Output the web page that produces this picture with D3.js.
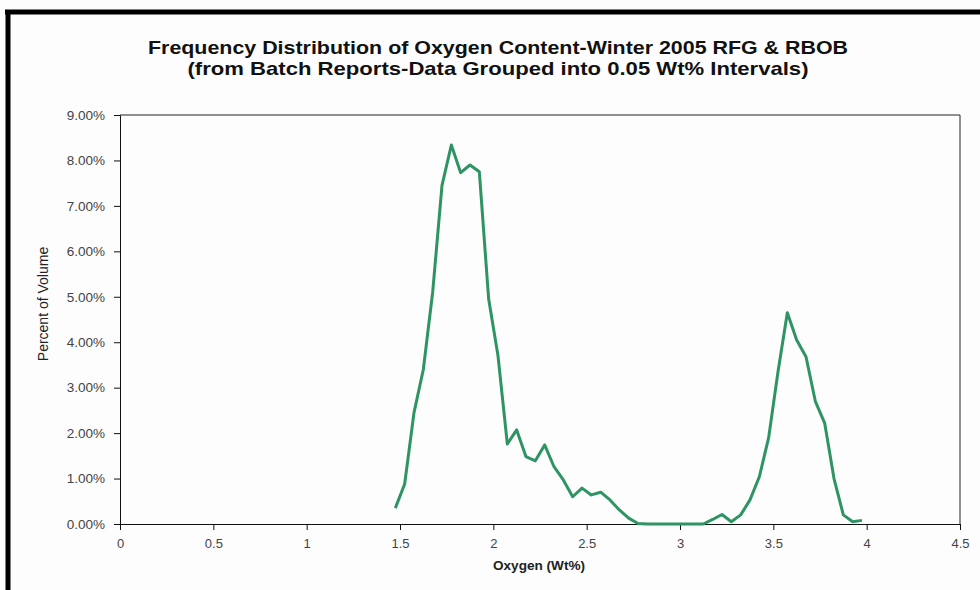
<!DOCTYPE html>
<html>
<head>
<meta charset="utf-8">
<script src="https://cdn.jsdelivr.net/npm/d3@7"></script>
<style>
  html, body { margin: 0; padding: 0; background: #fdfdfd; }
  svg { display: block; }
</style>
</head>
<body>
<svg id="chart" width="980" height="590"></svg>
<script>
// ---- Data ----
const titleLines = [
  "Frequency Distribution of Oxygen Content-Winter 2005 RFG & RBOB",
  "(from Batch Reports-Data Grouped into 0.05 Wt% Intervals)"
];
const xAxisTitle = "Oxygen (Wt%)";
const yAxisTitle = "Percent of Volume";
const xTicks = [0, 0.5, 1, 1.5, 2, 2.5, 3, 3.5, 4, 4.5];
const yTicks = [0, 1, 2, 3, 4, 5, 6, 7, 8, 9];
// oxygen content (interval midpoints, Wt%)
const oxygen = [
  1.475, 1.525, 1.575, 1.625, 1.675, 1.725, 1.775, 1.825, 1.875, 1.925,
  1.975, 2.025, 2.075, 2.125, 2.175, 2.225, 2.275, 2.325, 2.375, 2.425,
  2.475, 2.525, 2.575, 2.625, 2.675, 2.725, 2.775, 2.825, 2.875, 2.925,
  2.975, 3.025, 3.075, 3.125, 3.175, 3.225, 3.275, 3.325, 3.375, 3.425,
  3.475, 3.525, 3.575, 3.625, 3.675, 3.725, 3.775, 3.825, 3.875, 3.925,
  3.975
];
// percent of volume
const percentVolume = [
  0.35, 0.88, 2.45, 3.40, 5.10, 7.45, 8.34, 7.73, 7.90, 7.75,
  4.95, 3.70, 1.76, 2.07, 1.48, 1.39, 1.74, 1.26, 0.97, 0.60,
  0.79, 0.64, 0.70, 0.53, 0.31, 0.13, 0.01, 0.00, 0.00, 0.00,
  0.00, 0.00, 0.00, 0.00, 0.10, 0.21, 0.05, 0.20, 0.53, 1.04,
  1.90, 3.35, 4.65, 4.05, 3.68, 2.70, 2.22, 1.00, 0.20, 0.05,
  0.08
];

// ---- Layout ----
const svg = d3.select("#chart");
const W = 980, H = 590;
const plot = { left: 120, right: 960, top: 115, bottom: 524 };

// outer frame (cropped: top and left edges visible)
svg.append("rect").attr("x", 0).attr("y", 0).attr("width", W).attr("height", H).attr("fill", "#fdfdfd");
svg.append("line").attr("x1", 5).attr("x2", W).attr("y1", 12).attr("y2", 12)
  .attr("stroke", "#000").attr("stroke-width", 5);
svg.append("line").attr("x1", 8).attr("x2", 8).attr("y1", 10).attr("y2", H)
  .attr("stroke", "#000").attr("stroke-width", 5);

const x = d3.scaleLinear().domain([0, 4.5]).range([plot.left, plot.right]);
const y = d3.scaleLinear().domain([0, 9]).range([plot.bottom, plot.top]);

// plot area border (top & right)
svg.append("path")
  .attr("d", `M${plot.left},${plot.top}H${plot.right}V${plot.bottom}`)
  .attr("fill", "none").attr("stroke", "#222").attr("stroke-width", 1);

const font = "'Liberation Sans', Arial, sans-serif";

// y axis
const yAxis = d3.axisLeft(y).tickValues(yTicks).tickSize(6).tickPadding(9)
  .tickFormat(d => d3.format(".2f")(d) + "%");
const gy = svg.append("g").attr("transform", `translate(${plot.left},0)`).call(yAxis);
gy.select(".domain").attr("stroke", "#111");
gy.selectAll(".tick line").attr("stroke", "#111");
gy.selectAll("text").attr("font-family", font).attr("font-size", 13.5).attr("fill", "#444");

// x axis
const xAxis = d3.axisBottom(x).tickValues(xTicks).tickSize(6).tickPadding(9)
  .tickFormat(d => String(d));
const gx = svg.append("g").attr("transform", `translate(0,${plot.bottom})`).call(xAxis);
gx.select(".domain").attr("stroke", "#111");
gx.selectAll(".tick line").attr("stroke", "#111");
gx.selectAll("text").attr("font-family", font).attr("font-size", 13).attr("fill", "#444");

// line
const pts = oxygen.map((o, i) => [o, percentVolume[i]]);
const line = d3.line().x(d => x(d[0])).y(d => y(d[1]));
svg.append("path").datum(pts)
  .attr("d", line)
  .attr("fill", "none")
  .attr("stroke", "#2f9463")
  .attr("stroke-width", 3)
  .attr("stroke-linejoin", "round");

// titles
svg.append("text").attr("x", 498).attr("y", 54).attr("text-anchor", "middle")
  .attr("font-family", font).attr("font-weight", "bold").attr("font-size", 19)
  .attr("textLength", 700).attr("lengthAdjust", "spacingAndGlyphs")
  .attr("fill", "#111").text(titleLines[0]);
svg.append("text").attr("x", 498).attr("y", 75).attr("text-anchor", "middle")
  .attr("font-family", font).attr("font-weight", "bold").attr("font-size", 19)
  .attr("textLength", 621).attr("lengthAdjust", "spacingAndGlyphs")
  .attr("fill", "#111").text(titleLines[1]);

// x axis title
svg.append("text").attr("x", 539).attr("y", 570).attr("text-anchor", "middle")
  .attr("font-family", font).attr("font-weight", "bold").attr("font-size", 12)
  .attr("textLength", 92).attr("lengthAdjust", "spacingAndGlyphs")
  .attr("fill", "#222").text(xAxisTitle);

// y axis title
svg.append("text").attr("transform", "translate(48,304) rotate(-90)")
  .attr("text-anchor", "middle")
  .attr("font-family", font).attr("font-size", 14)
  .attr("fill", "#222").text(yAxisTitle);
</script>
</body>
</html>
